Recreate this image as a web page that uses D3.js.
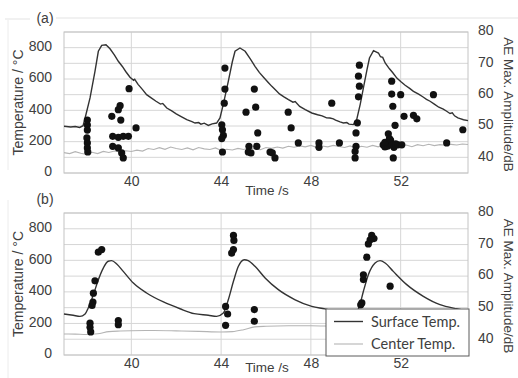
<!DOCTYPE html>
<html>
<head>
<meta charset="utf-8">
<script src="https://cdn.jsdelivr.net/npm/d3@7"></script>
<style>
  body { margin: 0; background: #fff; }
  svg { display: block; }
</style>
</head>
<body>
<div id="chart"></div>
<script>
// ---- data: [time s, value] ----
// panel (a) surface temperature (°C)
const surfaceA = [
  [37.0,298],[37.3,294],[37.5,297],[37.7,291],[37.85,302],[37.94,351],[38.16,479],[38.38,649],
  [38.53,777],[38.68,815],[38.87,819],[39.05,793],[39.25,752],[39.42,713],[39.6,680],[39.75,648],
  [39.94,611],[40.1,592],[40.15,598],[40.3,566],[40.5,532],[40.68,500],[40.9,478],[41.1,458],
  [41.3,440],[41.4,444],[41.58,415],[41.8,396],[42.0,378],[42.2,362],[42.47,340],[42.7,328],
  [42.84,319],[43.0,322],[43.1,312],[43.25,318],[43.43,304],[43.6,314],[43.8,319],[43.95,351],
  [44.1,440],[44.32,585],[44.5,710],[44.62,777],[44.84,798],[45.07,777],[45.3,728],[45.51,681],
  [45.7,642],[45.9,610],[46.1,578],[46.26,553],[46.45,526],[46.6,505],[46.8,486],[47.0,468],
  [47.2,452],[47.3,456],[47.5,425],[47.75,404],[48.04,383],[48.3,372],[48.5,365],[48.7,352],
  [48.85,351],[49.0,346],[49.1,338],[49.3,326],[49.45,319],[49.6,322],[49.7,312],[49.89,309],
  [50.04,340],[50.2,440],[50.34,543],[50.5,660],[50.61,734],[50.79,781],[51.01,766],[51.1,742],
  [51.2,738],[51.31,702],[51.5,665],[51.65,640],[51.83,606],[52.0,584],[52.2,560],[52.4,540],
  [52.57,521],[52.8,503],[53.0,485],[53.15,470],[53.31,458],[53.5,440],[53.7,420],[53.9,408],
  [54.05,394],[54.2,380],[54.3,384],[54.4,365],[54.55,352],[54.65,347],[54.8,340],[55.0,334]
];
// panel (a) center temperature (°C)
const centerA = [
  [37.0,130],[37.25,124],[37.5,136],[37.75,126],[38.0,118],[38.25,132],[38.5,124],[38.75,138],
  [39.0,131],[39.25,140],[39.5,134],[39.75,142],[40.0,137],[40.25,146],[40.5,140],[40.75,156],
  [41.0,150],[41.25,162],[41.5,151],[41.75,166],[42.0,156],[42.25,150],[42.5,160],[42.75,148],
  [43.0,163],[43.25,154],[43.5,150],[43.75,160],[44.0,144],[44.25,152],[44.5,147],[44.75,157],
  [45.0,150],[45.25,161],[45.5,154],[45.75,149],[46.0,163],[46.25,157],[46.5,166],[46.75,159],
  [47.0,171],[47.25,164],[47.5,173],[47.75,167],[48.0,176],[48.25,164],[48.5,172],[48.75,167],
  [49.0,176],[49.25,169],[49.5,163],[49.75,173],[50.0,158],[50.25,171],[50.5,164],[50.75,176],
  [51.0,167],[51.25,181],[51.5,171],[51.75,186],[52.0,174],[52.25,179],[52.5,168],[52.75,181],
  [53.0,174],[53.25,183],[53.5,175],[53.75,181],[54.0,177],[54.25,183],[54.5,179],[54.75,185],
  [55.0,182]
];
// panel (a) AE max amplitude (dB)
const aeA = [
  [38.04,51.9],[38.04,50.3],[38.04,48.7],[38.02,46.2],[38.04,44.6],[38.04,43.0],[38.06,41.7],
  [39.90,61.9],[39.50,56.5],[39.42,55.2],[39.13,53.1],[39.53,51.9],[40.21,49.4],[39.17,46.7],
  [39.42,46.4],[39.64,46.7],[39.87,46.7],[39.17,43.5],[39.42,43.0],[39.57,41.4],[39.64,39.8],
  [44.17,68.5],[44.17,61.8],[44.14,57.3],[44.03,50.4],[44.06,48.8],[44.10,47.0],[44.03,46.0],
  [44.06,41.7],[45.48,61.8],[45.54,56.0],[45.11,54.4],[45.63,47.8],[45.59,43.5],[45.24,43.5],
  [45.21,41.7],[45.33,41.4],[46.18,41.7],[46.28,41.4],[46.40,39.8],[46.99,54.4],[47.12,49.4],
  [47.44,44.6],[48.36,44.6],[48.36,43.2],[48.93,57.3],[49.27,44.6],
  [50.16,69.4],[50.12,65.9],[50.16,62.7],[50.12,59.3],[50.07,51.0],[50.01,47.8],[50.01,43.5],
  [49.97,41.9],[49.97,39.8],[51.60,64.3],[51.60,60.2],[52.0,60.0],[51.65,56.3],[52.15,53.1],
  [52.57,53.4],[52.72,52.3],[53.46,60.0],[51.75,50.2],[51.45,47.5],[51.67,39.8],[54.05,44.6],
  [54.77,48.8],[51.22,44.0],[51.3,43.3],[51.35,44.6],[51.42,43.6],[51.5,44.3],[51.55,45.5],
  [51.62,44.0],[51.7,43.2],[51.78,44.3],[51.88,44.0],[52.05,44.0],[51.3,44.8],[51.5,46.0]
];
// panel (b) surface temperature (°C)
const surfaceB = [
  [37.0,260],[37.41,252],[37.71,245],[37.94,260],[38.08,298],[38.31,382],[38.53,477],[38.75,551],
  [38.97,594],[39.12,598],[39.35,577],[39.64,530],[40.09,456],[40.68,393],[41.43,336],[42.17,293],
  [42.8,262],[43.43,252],[43.8,245],[44.10,266],[44.32,350],[44.55,467],[44.77,562],[45.03,604],
  [45.21,598],[45.51,562],[45.96,488],[46.55,414],[47.30,350],[48.04,308],[48.63,292],[48.85,285],
  [49.3,265],[49.7,252],[49.95,258],[50.16,308],[50.34,404],[50.56,509],[50.86,583],[51.08,598],
  [51.31,583],[51.67,530],[52.27,446],[53.01,372],[53.75,319],[54.5,293],[55.0,280]
];
// panel (b) center temperature (°C)
const centerB = [
  [37.0,133],[37.5,132],[38.0,130],[38.5,135],[39.0,148],[39.5,152],[40.0,154],[41.0,155],
  [42.0,153],[43.0,150],[44.0,146],[44.5,148],[45.0,160],[45.5,178],[46.0,182],[47.0,185],
  [48.0,185],[49.0,182],[50.0,180],[51.0,182],[52.0,183],[53.0,185],[54.0,185],[55.0,186]
];
// panel (b) AE max amplitude (dB)
const aeB = [
  [38.53,67.6],[38.68,68.4],[38.38,58.5],[38.31,54.6],[38.29,51.8],[38.25,50.7],[38.16,45.1],
  [38.16,43.8],[38.19,42.3],[39.42,45.9],[39.42,44.6],
  [44.55,72.9],[44.57,71.3],[44.55,68.4],[44.47,67.3],[44.2,50.4],[44.29,48.0],[44.2,44.4],
  [45.48,49.4],[45.48,45.7],
  [50.71,72.9],[50.81,71.9],[50.64,71.5],[50.56,70.2],[50.49,66.0],[50.34,60.4],[50.34,58.9],
  [50.27,51.5],[50.22,50.9],[51.53,56.8]
];

// ticks and labels
const timeTicks = [40, 44, 48, 52];
const tempTicks = [0, 200, 400, 600, 800];
const tempGrid = [0, 100, 200, 300, 400, 500, 600, 700, 800, 900];
const aeTicks = [40, 50, 60, 70, 80];
const legendLabels = ['Surface Temp.', 'Center Temp.'];

const W = 518, H = 378;
const svg = d3.select('#chart').append('svg')
  .attr('width', W).attr('height', H)
  .style('font-family', '"Liberation Sans", Arial, sans-serif');

svg.append('rect').attr('width', W).attr('height', H).attr('fill', '#fff');

// faint frame lines of the original figure
svg.append('line').attr('x1', 5).attr('x2', 30).attr('y1', 19).attr('y2', 19)
  .attr('stroke', '#e3e3e3');
svg.append('line').attr('x1', 56).attr('x2', W).attr('y1', 18).attr('y2', 18)
  .attr('stroke', '#e3e3e3');
svg.append('line').attr('x1', 8).attr('x2', 8).attr('y1', 20).attr('y2', 170)
  .attr('stroke', '#ececec');
svg.append('line').attr('x1', 8).attr('x2', 8).attr('y1', 200).attr('y2', 378)
  .attr('stroke', '#ececec');

const x = d3.scaleLinear().domain([37, 55]).range([64, 468]);

function drawPanel(p) {
  const yT = d3.scaleLinear().domain([0, 900]).range([p.bottom, p.top]);
  const yA = d3.scaleLinear().domain([35, 80]).range([p.bottom, p.top]);
  const g = svg.append('g');

  // grid
  g.selectAll('.hgrid').data(tempGrid).enter().append('line')
    .attr('x1', x.range()[0]).attr('x2', x.range()[1])
    .attr('y1', d => yT(d)).attr('y2', d => yT(d))
    .attr('stroke', '#d6d6d6').attr('stroke-width', 1);
  g.selectAll('.vgrid').data(timeTicks).enter().append('line')
    .attr('x1', d => x(d)).attr('x2', d => x(d))
    .attr('y1', p.top).attr('y2', p.bottom)
    .attr('stroke', '#d6d6d6').attr('stroke-width', 1);
  g.append('rect')
    .attr('x', x.range()[0]).attr('y', p.top)
    .attr('width', x.range()[1] - x.range()[0]).attr('height', p.bottom - p.top)
    .attr('fill', 'none').attr('stroke', '#c4c4c4');

  // axes
  const axL = g.append('g').attr('transform', 'translate(64,0)')
    .call(d3.axisLeft(yT).tickValues(tempTicks).tickSize(0).tickPadding(12));
  const axR = g.append('g').attr('transform', 'translate(468,0)')
    .call(d3.axisRight(yA).tickValues(aeTicks).tickSize(0).tickPadding(10));
  const axB = g.append('g').attr('transform', 'translate(0,' + p.bottom + ')')
    .call(d3.axisBottom(x).tickValues(timeTicks).tickFormat(d3.format('d')).tickSize(0).tickPadding(3));
  [axL, axR, axB].forEach(a => {
    a.select('.domain').remove();
    a.selectAll('text').attr('font-size', 14).attr('fill', '#404040')
      .attr('font-family', '"Liberation Sans", Arial, sans-serif');
  });
  axL.selectAll('text').attr('dy', '0.2em');
  axR.selectAll('text').attr('dy', '0.2em');

  // lines
  const line = d3.line().x(d => x(d[0]));
  g.append('path').datum(p.center)
    .attr('d', line.y(d => yT(d[1])).curve(p.smooth ? d3.curveMonotoneX : d3.curveLinear))
    .attr('fill', 'none').attr('stroke', '#b4b4b4').attr('stroke-width', 1.1);
  g.append('path').datum(p.surface)
    .attr('d', line.y(d => yT(d[1])).curve(p.smooth ? d3.curveMonotoneX : d3.curveLinear))
    .attr('fill', 'none').attr('stroke', '#333').attr('stroke-width', 1.4);

  // AE dots
  g.selectAll('.dot').data(p.ae).enter().append('circle')
    .attr('cx', d => x(d[0])).attr('cy', d => yA(d[1])).attr('r', 3.6)
    .attr('fill', '#111');

  // titles
  g.append('text').text(p.label).attr('x', 45).attr('y', p.top - 9)
    .attr('text-anchor', 'middle').attr('font-size', 14).attr('fill', '#404040');
  g.append('text').text('Temperature / °C')
    .attr('transform', 'translate(23,' + (p.top + p.bottom) / 2 + ') rotate(-90)')
    .attr('text-anchor', 'middle').attr('font-size', 14).attr('fill', '#404040');
  g.append('text').text('AE Max. Amplitude/dB')
    .attr('transform', 'translate(504,' + (p.top + p.bottom + 4) / 2 + ') rotate(90)')
    .attr('text-anchor', 'middle').attr('font-size', 13.5).attr('fill', '#404040');
  g.append('text').text('Time /s').attr('x', 267).attr('y', p.bottom + p.titleGap)
    .attr('text-anchor', 'middle').attr('font-size', 13.5).attr('fill', '#404040');
  return { g, yT };
}

drawPanel({ top: 32, bottom: 173, surface: surfaceA, center: centerA, ae: aeA, label: '(a)', smooth: false, titleGap: 22 });
drawPanel({ top: 213, bottom: 355, surface: surfaceB, center: centerB, ae: aeB, label: '(b)', smooth: true, titleGap: 17 });

// legend in panel (b)
const leg = svg.append('g').attr('transform', 'translate(326,309)');
leg.append('rect').attr('width', 143).attr('height', 47)
  .attr('fill', '#fff').attr('stroke', '#5a5a5a').attr('stroke-width', 1);
const legColors = ['#333', '#c4c4c4'];
legendLabels.forEach((lab, i) => {
  const yy = 12.5 + i * 22.5;
  leg.append('line').attr('x1', 8).attr('x2', 37).attr('y1', yy).attr('y2', yy)
    .attr('stroke', legColors[i]).attr('stroke-width', 1.4);
  leg.append('text').text(lab).attr('x', 45).attr('y', yy + 5)
    .attr('font-family', 'Lato, "Open Sans", sans-serif')
    .attr('font-size', 14.5).attr('fill', '#404040');
});
</script>
</body>
</html>
